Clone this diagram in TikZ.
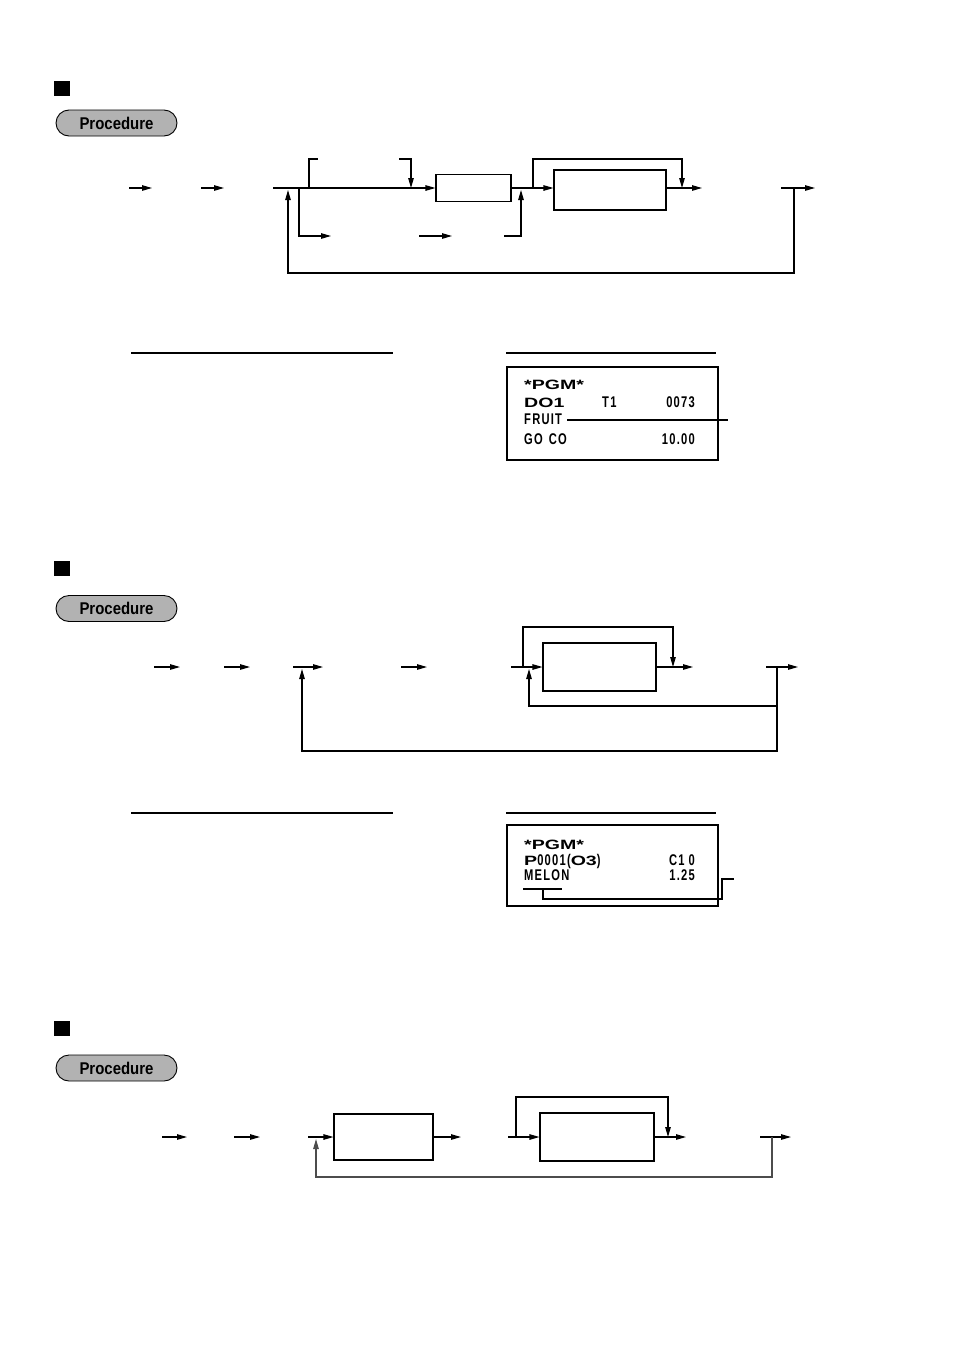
\documentclass[tikz,border=0pt]{standalone}
\usepackage{fontspec}
\usetikzlibrary{arrows.meta}
\newfontfamily\procfont[FakeStretch=0.88]{Liberation Sans}
\newfontfamily\widefont[FakeStretch=1.45]{Liberation Sans}
\newfontfamily\narrowfont[FakeStretch=0.72,LetterSpace=8]{Liberation Sans}
\tikzset{
  ln/.style={line width=1.1pt},
  arr/.style={ln,-{Triangle[length=10pt,width=5.5pt]}},
  stepbox/.style={draw,ln,inner sep=0pt},
  pill/.style={draw,line width=0.9pt,fill=black!30,rounded corners=13pt,minimum width=121pt,minimum height=26pt,inner sep=0pt,font={\procfont\bfseries\fontsize{17}{17}\selectfont}},
  bsq/.style={fill=black},
  wtxt/.style={inner sep=0pt,anchor=base west,font={\widefont\bfseries\fontsize{13.5}{13.5}\selectfont}},
  ntxt/.style={inner sep=0pt,anchor=base west,font={\narrowfont\bfseries\fontsize{15.5}{15.5}\selectfont}},
  ntxtr/.style={ntxt,anchor=base east},
  rcpt/.style={draw,ln,inner sep=0pt}
}
\begin{document}
\begin{tikzpicture}[x=1pt,y=-1pt]
\useasboundingbox (0,0) rectangle (954,1349);
% ===== Section 1 =====
\fill[bsq] (54,81) rectangle (70,96);
\node[pill] (p1) at (116.5,123) {Procedure};
\coordinate (s1a) at (129,188); \coordinate (s1b) at (152,188);
\draw[arr] (s1a) -- (s1b);
\coordinate (s1c) at (201,188); \coordinate (s1d) at (224,188);
\draw[arr] (s1c) -- (s1d);
\node[stepbox,minimum width=75pt,minimum height=27pt] (b11) at (473.5,188) {};
\node[stepbox,minimum width=112pt,minimum height=40pt] (b12) at (610,190) {};
\coordinate (m1) at (273,188);
\draw[arr] (m1) -- (b11.west);
% top bypass
\coordinate (t1) at (309,188); \coordinate (t2) at (318,159);
\draw[ln] (t1) |- (t2);
\coordinate (t3) at (399,159); \coordinate (t4) at (411,188);
\draw[arr] (t3) -| (t4);
% lower branch
\coordinate (u1) at (299,188); \coordinate (u2) at (331,236);
\draw[arr] (u1) |- (u2);
\coordinate (u3) at (419,236); \coordinate (u4) at (452,236);
\draw[arr] (u3) -- (u4);
\coordinate (u5) at (504,236); \coordinate (u6) at (521,190);
\draw[arr] (u5) -| (u6);
% between boxes
\draw[arr] (b11.east) -- (b12.west |- b11.east);
\coordinate (v1) at (533,188); \coordinate (v2) at (533,159); \coordinate (v3) at (682,188);
\draw[arr] (v1) -- (v2) -| (v3);
\coordinate (w1) at (702,188);
\draw[arr] (b12.east |- w1) -- (w1);
% right end and loop
\coordinate (e1) at (781,188); \coordinate (e2) at (815,188);
\draw[arr] (e1) -- (e2);
\coordinate (l1) at (794,188); \coordinate (l2) at (794,273); \coordinate (l3) at (288,190);
\draw[arr] (l1) -- (l2) -| (l3);
% example lines
\coordinate (h1a) at (131,353); \coordinate (h1b) at (393,353);
\draw[ln] (h1a) -- (h1b);
\coordinate (h1c) at (506,353); \coordinate (h1d) at (716,353);
\draw[ln] (h1c) -- (h1d);
% receipt 1
\node[rcpt,minimum width=211pt,minimum height=93pt] (r1) at (612.5,413.5) {};
\node[wtxt] (r1a) at (524,389) {*PGM*};
\node[wtxt] (r1b) at (524,407) {DO1};
\node[ntxt] (r1c) at (602,407) {T1};
\node[ntxtr] (r1d) at (695,407) {0073};
\node[ntxt] (r1e) at (524,424) {FRUIT};
\node[ntxt] (r1f) at (524,444) {GO\hspace{6pt}CO};
\node[ntxtr] (r1g) at (695,444) {10.00};
\coordinate (c1a) at (567,420); \coordinate (c1b) at (728,420);
\draw[ln] (c1a) -- (c1b);
% ===== Section 2 =====
\fill[bsq] (54,561) rectangle (70,576);
\node[pill] (p2) at (116.5,608.5) {Procedure};
\coordinate (s2a) at (154,667); \coordinate (s2b) at (180,667);
\draw[arr] (s2a) -- (s2b);
\coordinate (s2c) at (224,667); \coordinate (s2d) at (250,667);
\draw[arr] (s2c) -- (s2d);
\coordinate (s2e) at (293,667); \coordinate (s2f) at (323,667);
\draw[arr] (s2e) -- (s2f);
\coordinate (s2g) at (401,667); \coordinate (s2h) at (427,667);
\draw[arr] (s2g) -- (s2h);
\node[stepbox,minimum width=113pt,minimum height=48pt] (b2) at (599.5,667) {};
\coordinate (s2i) at (511,667);
\draw[arr] (s2i) -- (b2.west);
\coordinate (x1) at (523,667); \coordinate (x2) at (523,627); \coordinate (x3) at (673,667);
\draw[arr] (x1) -- (x2) -| (x3);
\coordinate (x4) at (693,667);
\draw[arr] (b2.east) -- (x4);
\coordinate (x5) at (766,667); \coordinate (x6) at (798,667);
\draw[arr] (x5) -- (x6);
\coordinate (y1) at (777,667); \coordinate (y2) at (777,751); \coordinate (y3) at (302,669);
\draw[arr] (y1) -- (y2) -| (y3);
\coordinate (y4) at (777,706); \coordinate (y5) at (529,669);
\draw[arr] (y4) -| (y5);
% example lines
\coordinate (h2a) at (131,813); \coordinate (h2b) at (393,813);
\draw[ln] (h2a) -- (h2b);
\coordinate (h2c) at (506,813); \coordinate (h2d) at (716,813);
\draw[ln] (h2c) -- (h2d);
% receipt 2
\node[rcpt,minimum width=211pt,minimum height=81pt] (r2) at (612.5,865.5) {};
\node[wtxt] (r2a) at (524,849) {*PGM*};
\node[wtxt] (r2b) at (524,865) {P{\narrowfont\fontsize{15.5}{15.5}\selectfont 0001(}O3{\narrowfont\fontsize{15.5}{15.5}\selectfont )}};
\node[ntxtr] (r2c) at (695,865) {C1\hspace{4pt}0};
\node[ntxt] (r2d) at (524,880) {MELON};
\node[ntxtr] (r2e) at (695,880) {1.25};
\coordinate (c2a) at (523,889); \coordinate (c2b) at (562,889);
\draw[ln] (c2a) -- (c2b);
\coordinate (c2c) at (543,889); \coordinate (c2d) at (722,899); \coordinate (c2e) at (722,879); \coordinate (c2f) at (734,879);
\draw[ln] (c2c) |- (c2d) -- (c2e) -- (c2f);
% ===== Section 3 =====
\fill[bsq] (54,1021) rectangle (70,1036);
\node[pill] (p3) at (116.5,1068) {Procedure};
\coordinate (s3a) at (162,1137); \coordinate (s3b) at (187,1137);
\draw[arr] (s3a) -- (s3b);
\coordinate (s3c) at (234,1137); \coordinate (s3d) at (260,1137);
\draw[arr] (s3c) -- (s3d);
\node[stepbox,minimum width=99pt,minimum height=46pt] (b31) at (383.5,1137) {};
\node[stepbox,minimum width=114pt,minimum height=48pt] (b32) at (597,1137) {};
\coordinate (s3e) at (308,1137);
\draw[arr] (s3e) -- (b31.west);
\coordinate (s3f) at (461,1137);
\draw[arr] (b31.east) -- (s3f);
\coordinate (s3g) at (508,1137);
\draw[arr] (s3g) -- (b32.west);
\coordinate (z1) at (516,1137); \coordinate (z2) at (516,1097); \coordinate (z3) at (668,1137);
\draw[arr] (z1) -- (z2) -| (z3);
\coordinate (s3h) at (686,1137);
\draw[arr] (b32.east) -- (s3h);
\coordinate (s3i) at (760,1137); \coordinate (s3j) at (791,1137);
\draw[arr] (s3i) -- (s3j);
\coordinate (q1) at (772,1137); \coordinate (q2) at (772,1177); \coordinate (q3) at (316,1139);
\draw[arr,color=black!70] (q1) -- (q2) -| (q3);
\end{tikzpicture}
\end{document}
